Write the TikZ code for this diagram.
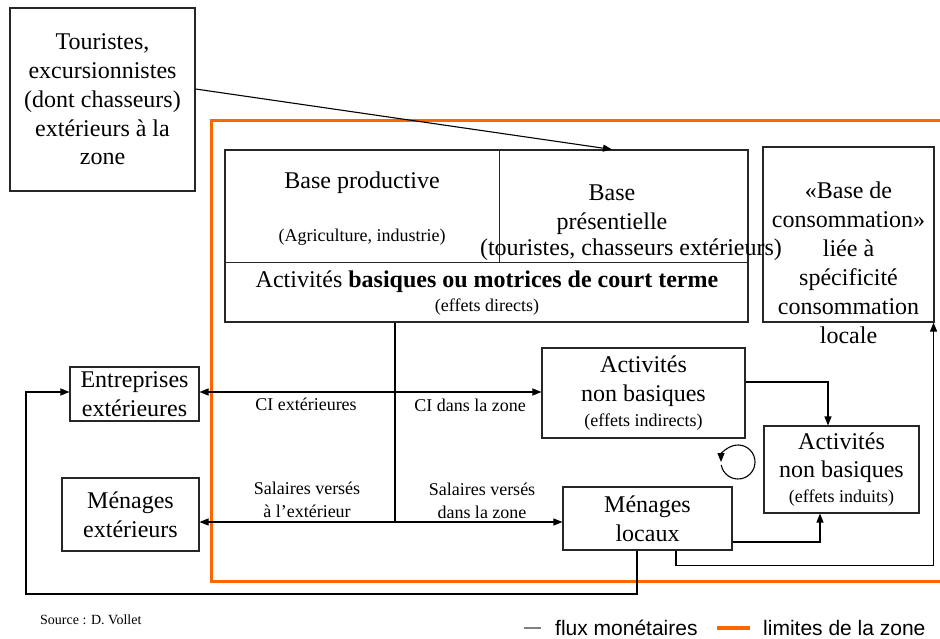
\documentclass[tikz,border=0pt]{standalone}
\usepackage{fontspec}
\setmainfont{Liberation Serif}
\newfontfamily\legendfont{Liberation Sans}
\usetikzlibrary{arrows.meta,calc}
\definecolor{zoneorange}{HTML}{FF6600}
\newcommand\bigf{\fontsize{24}{28.7}\selectfont}
\newcommand\smallf{\fontsize{18}{21}\selectfont}
\begin{document}
\begin{tikzpicture}[x=1pt,y=1pt,
  font=\bigf,
  box/.style={draw=black!85, line width=1.1pt, inner sep=0pt, align=center},
  conn/.style={draw=black, line width=1.1pt},
  arr/.style={conn, -{Triangle[length=9pt,width=7pt]}},
  lbl/.style={font=\smallf, align=center, inner sep=0pt},
  zone/.style={draw=zoneorange, line width=3pt}]
\useasboundingbox (0,0) rectangle (940,-639);
\clip (0,0) rectangle (940,-639);

% zone limit
\draw[zone] (211,-121) rectangle (950,-581);

% boxes
\node[box, minimum width=185pt, minimum height=183pt] (tour) at (102.5,-99.5)
  {Touristes,\\excursionnistes\\(dont chasseurs)\\extérieurs à la\\zone};
\node[box, minimum width=523pt, minimum height=172pt] (big) at (486.5,-236) {};
\node[box, minimum width=171pt, minimum height=175pt] (cons) at (848.5,-234.5) {};
\node[box, minimum width=129pt, minimum height=54pt] (entext) at (134.5,-394)
  {Entreprises\\extérieures};
\node[box, minimum width=137pt, minimum height=73pt] (menext) at (130.5,-514.5)
  {Ménages\\extérieurs};
\node[box, minimum width=203pt, minimum height=90pt] (indir) at (643.5,-393)
  {Activités\\non basiques\\[-4pt]{\smallf (effets indirects)}};
\node[box, minimum width=155pt, minimum height=87pt] (induced) at (841.5,-469.5)
  {Activités\\non basiques\\[-4pt]{\smallf (effets induits)}};
\node[box, minimum width=169pt, minimum height=63pt] (menloc) at (647.5,-518.5)
  {Ménages\\locaux};

% big box inner dividers
\draw[conn, draw=black!85] ([yshift=-113pt]big.north west) -- ([yshift=-113pt]big.north east);
\draw[conn, draw=black!85] ([xshift=275pt]big.north west) -- ([xshift=275pt,yshift=-113pt]big.north west);

% big box texts
\node (bp) at (362,-183) {Base productive};
\node[lbl] (agri) at (362,-237) {(Agriculture, industrie)};
\node[align=center] (bpres) at (612,-210) {Base\\présentielle};
\node (bpres2) at (631,-250) {(touristes, chasseurs extérieurs)};
\node (act) at (487,-282) {Activités \textbf{basiques ou motrices de court terme}};
\node[lbl] (dir) at (487,-307) {(effets directs)};

% consumption base text
\node[align=center, font=\fontsize{24}{29}\selectfont] (constext) at (848.5,-262.5)
  {«Base de\\consommation»\\liée à\\spécificité\\consommation\\locale};

% tourists arrow
\coordinate (tip) at (612,-150);
\draw[arr] ([yshift=10.5pt]tour.east) -- (big.north -| tip);

% vertical distribution line
\coordinate (ci) at (395,-392);
\coordinate (sal) at (395,-522);
\draw[conn] (big.south -| ci) -- (sal);
\draw[arr] (ci) -- (ci -| entext.east);
\draw[arr] (ci) -- (ci -| indir.west);
\draw[arr] (sal) -- (sal -| menext.east);
\draw[arr] (sal) -- (sal -| menloc.west);

\node[lbl] (l1) at (306,-404) {CI extérieures};
\node[lbl] (l2) at (470,-405) {CI dans la zone};
\node[lbl, font=\fontsize{18}{23}\selectfont] (l3) at (307,-500) {Salaires versés\\à l’extérieur};
\node[lbl, font=\fontsize{18}{23}\selectfont] (l4) at (482,-501) {Salaires versés\\dans la zone};

% indirect -> induced
\draw[arr] ([yshift=11pt]indir.east) -| ([xshift=-13.5pt]induced.north);
% menages locaux -> induced
\draw[arr] ([yshift=-23.5pt]menloc.east) -| ([xshift=-21.5pt]induced.south);
% menages locaux -> consumption base
\draw[arr] ([xshift=28.5pt]menloc.south) -- ++(0,-15pt) -| ([xshift=-1pt]cons.south east);
% feedback to external firms
\coordinate (fb) at (26,-392);
\draw[arr] ([xshift=-10.5pt]menloc.south) |- (fb |- 0,-594) -- (fb) -- (fb -| entext.west);

% loop
\coordinate (loop) at (738,-462);
\draw[arr] (loop) ++(190:17pt) arc[start angle=190, end angle=540, radius=17pt];

% source
\node[anchor=west, inner sep=0pt, font=\fontsize{14}{16}\selectfont] (src) at (40,-620) {Source : D. Vollet};

% legend
\coordinate (lg1) at (524,-628);
\coordinate (lg2) at (717,-628);
\draw[gray, line width=1.5pt] (lg1) -- ++(17pt,0);
\node[anchor=west, inner sep=0pt, font=\legendfont\fontsize{21}{24}\selectfont] (lgt1) at (555,-628) {flux monétaires};
\draw[zoneorange, line width=3.5pt] (lg2) -- ++(33pt,0);
\node[anchor=west, inner sep=0pt, font=\legendfont\fontsize{21}{24}\selectfont] (lgt2) at (763,-628) {limites de la zone};
\end{tikzpicture}
\end{document}
